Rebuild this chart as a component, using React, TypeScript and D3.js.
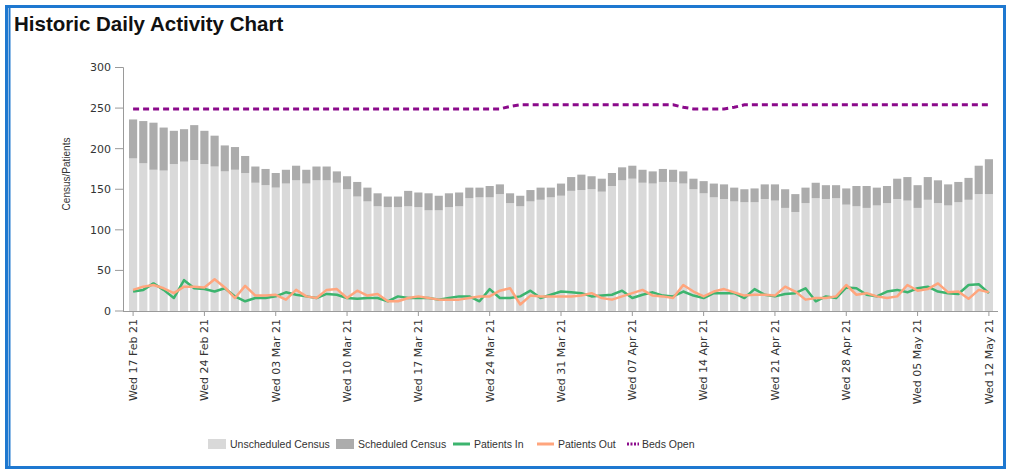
import React from 'react';
import * as d3 from 'd3';

const startDay = new Date(2021, 1, 17);
const endDay = new Date(2021, 4, 13);
const days: Date[] = d3.timeDay.range(startDay, endDay);

const unscheduled = [
  188, 182, 174, 173, 181, 184, 186, 181, 178, 172, 174, 170, 158, 155, 152, 157, 161, 157, 161, 161,
  158, 150, 141, 135, 129, 128, 128, 129, 128, 124, 124, 128, 129, 139, 140, 140, 144, 133, 129, 135, 137,
  140, 142, 148, 149, 150, 147, 154, 161, 163, 158, 157, 159, 159, 157, 150, 145, 140, 138, 135, 134,
  134, 138, 136, 127, 122, 133, 139, 138, 139, 131, 129, 127, 130, 133, 138, 136, 127, 137, 133, 130, 134, 137, 144, 144,
];
const scheduled = [
  48, 52, 58, 53, 41, 40, 43, 41, 38, 32, 28, 21, 20, 20, 18, 17, 18, 17, 17, 17,
  14, 16, 18, 17, 16, 13, 13, 19, 18, 21, 18, 17, 17, 13, 12, 14, 12, 12, 13, 14, 15,
  12, 15, 17, 19, 16, 16, 16, 16, 16, 16, 15, 16, 15, 15, 13, 15, 17, 18, 17, 16,
  17, 18, 20, 23, 22, 19, 19, 17, 16, 20, 25, 27, 22, 21, 25, 29, 28, 28, 28, 26, 25, 27, 35, 43,
];
const patientsIn = [
  24, 26, 34, 26, 16, 38, 28, 27, 24, 28, 18, 12, 16, 16, 18, 23, 20, 18, 16, 21, 20,
  16, 15, 16, 16, 12, 18, 16, 16, 16, 14, 16, 18, 18, 12, 27, 16, 16, 18, 25, 16, 20,
  24, 23, 22, 18, 19, 20, 25, 16, 20, 23, 19, 18, 24, 19, 16, 22, 22, 22, 16, 27, 20,
  18, 21, 22, 28, 12, 18, 16, 29, 28, 20, 18, 24, 26, 23, 28, 30, 24, 22, 21, 32, 33, 22,
];
const patientsOut = [
  26, 30, 32, 28, 22, 30, 30, 29, 39, 29, 16, 31, 19, 19, 20, 14, 26, 18, 16, 26, 27,
  16, 25, 19, 21, 12, 12, 16, 18, 16, 14, 14, 14, 16, 18, 18, 25, 28, 8, 19, 18, 18,
  18, 18, 19, 22, 16, 14, 18, 22, 26, 19, 18, 16, 32, 24, 18, 24, 27, 23, 19, 20, 20,
  19, 30, 24, 14, 16, 16, 18, 32, 20, 22, 18, 16, 18, 32, 25, 27, 34, 23, 24, 15, 26, 23,
];
const bedsOpen = [
  249, 249, 249, 249, 249, 249, 249, 249, 249, 249, 249, 249, 249, 249, 249, 249, 249, 249, 249, 249,
  249, 249, 249, 249, 249, 249, 249, 249, 249, 249, 249, 249, 249, 249, 249, 249, 249, 252, 254, 254,
  254, 254, 254, 254, 254, 254, 254, 254, 254, 254, 254, 254, 254, 254, 251, 249, 249, 249, 249, 251,
  254, 254, 254, 254, 254, 254, 254, 254, 254, 254, 254, 254, 254, 254, 254, 254, 254, 254, 254, 254,
  254, 254, 254, 254, 254,
];
const yTicks = [0, 50, 100, 150, 200, 250, 300];

const C_UNSCH = '#d9d9d9';
const C_SCH = '#acacac';
const C_IN = '#3cb46e';
const C_OUT = '#ffa57d';
const C_BEDS = '#8b0a8b';
const AXIS = '#9a9a9a';
const TXT = '#333333';

export default function App() {
  const W = 1013;
  const H = 473;
  const idx = d3.range(days.length);
  const x = d3
    .scaleBand<number>()
    .domain(idx)
    .range([128, 994])
    .paddingInner(0.2)
    .paddingOuter(0.1);
  const cx = (i: number) => (x(i) as number) + x.bandwidth() / 2;
  const y = d3.scaleLinear().domain([0, 300]).range([311, 67.5]);

  const line = (vals: number[]) =>
    d3
      .line<number>()
      .x((_, i) => cx(i))
      .y((v) => y(v))(vals) as string;

  const fmt = d3.timeFormat('%a %d %b %y');
  const tickIdx = idx.filter((i) => i % 7 === 0);

  const legendFont = "'Liberation Sans', Arial, sans-serif";
  const axisFont = "'DejaVu Sans', Verdana, sans-serif";

  return (
    <svg
      width={W}
      height={H}
      style={{ position: 'absolute', left: 0, top: 0, background: '#fff' }}
    >
      <rect x={0} y={0} width={W} height={H} fill="#fff" />
      <rect x={6.5} y={6.5} width={998} height={461} fill="none" stroke="#1e78d0" strokeWidth={3} />
      <line x1={9.5} y1={8} x2={9.5} y2={466} stroke="#1e78d0" strokeWidth={2} />
      <text
        x={14}
        y={31}
        fontFamily="'Liberation Sans', Arial, sans-serif"
        fontWeight="bold"
        fontSize={20.5}
        fill="#111"
      >
        Historic Daily Activity Chart
      </text>

      {/* bars */}
      {idx.map((i) => (
        <g key={i}>
          <rect
            x={x(i)}
            y={y(unscheduled[i])}
            width={x.bandwidth()}
            height={y(0) - y(unscheduled[i])}
            fill={C_UNSCH}
          />
          <rect
            x={x(i)}
            y={y(unscheduled[i] + scheduled[i])}
            width={x.bandwidth()}
            height={y(unscheduled[i]) - y(unscheduled[i] + scheduled[i])}
            fill={C_SCH}
          />
        </g>
      ))}

      {/* lines */}
      <path d={line(patientsIn)} fill="none" stroke={C_IN} strokeWidth={2.5} strokeLinejoin="round" />
      <path d={line(patientsOut)} fill="none" stroke={C_OUT} strokeWidth={2.5} strokeLinejoin="round" />
      <path
        d={line(bedsOpen)}
        fill="none"
        stroke={C_BEDS}
        strokeWidth={3}
        strokeDasharray="6,4"
      />

      {/* y axis */}
      <line x1={123.5} y1={y(300)} x2={123.5} y2={y(0)} stroke={AXIS} strokeWidth={1} />
      {yTicks.map((t) => (
        <g key={t}>
          <line x1={115} x2={123.5} y1={y(t)} y2={y(t)} stroke={AXIS} strokeWidth={1} />
          <text
            x={111}
            y={y(t)}
            dy="0.35em"
            textAnchor="end"
            fontFamily={axisFont}
            fontSize={11}
            fill={TXT}
          >
            {t}
          </text>
        </g>
      ))}
      <text
        transform={`translate(70,174) rotate(-90)`}
        textAnchor="middle"
        fontFamily={legendFont}
        fontSize={10}
        fill={TXT}
      >
        Census/Patients
      </text>

      {/* x axis */}
      <line x1={123} y1={311.5} x2={998} y2={311.5} stroke={AXIS} strokeWidth={1} />
      {tickIdx.map((i) => (
        <g key={i}>
          <line x1={cx(i)} x2={cx(i)} y1={311.5} y2={316} stroke={AXIS} strokeWidth={1} />
          <text
            transform={`translate(${cx(i)},319) rotate(-90)`}
            textAnchor="end"
            dy="0.35em"
            fontFamily={axisFont}
            fontSize={11}
            fill={TXT}
          >
            {fmt(days[i])}
          </text>
        </g>
      ))}

      {/* legend */}
      <g fontFamily={legendFont} fontSize={10.5} fill={TXT}>
        <rect x={208} y={439} width={18} height={10} fill={C_UNSCH} />
        <text x={230} y={444} dy="0.35em">Unscheduled Census</text>
        <rect x={336} y={439} width={18} height={10} fill={C_SCH} />
        <text x={358} y={444} dy="0.35em">Scheduled Census</text>
        <line x1={453} x2={470} y1={444} y2={444} stroke={C_IN} strokeWidth={3} />
        <text x={474} y={444} dy="0.35em">Patients In</text>
        <line x1={537} x2={554} y1={444} y2={444} stroke={C_OUT} strokeWidth={3} />
        <text x={558} y={444} dy="0.35em">Patients Out</text>
        <line x1={627} x2={639} y1={444} y2={444} stroke={C_BEDS} strokeWidth={3} strokeDasharray="2,1.5" />
        <text x={642} y={444} dy="0.35em">Beds Open</text>
      </g>
    </svg>
  );
}
